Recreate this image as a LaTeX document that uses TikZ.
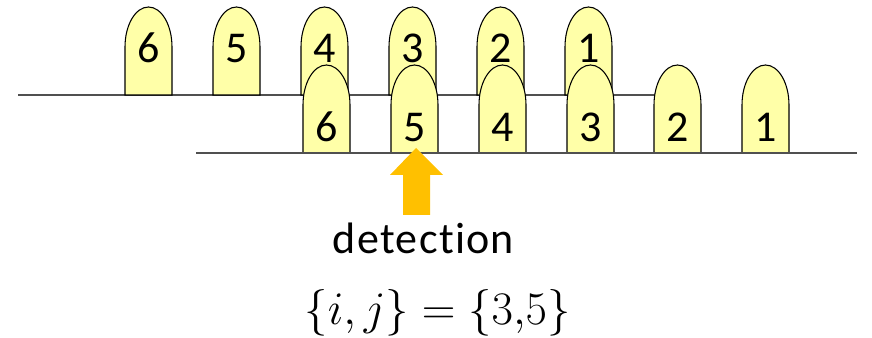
\RequirePackage{fix-cm}
\documentclass[tikz,border=0pt]{standalone}
\usepackage{fontspec}
\setmainfont{Carlito}
\newfontfamily\detfont[LetterSpace=3,Ligatures=NoCommon]{Carlito}
\definecolor{tombfill}{HTML}{FFFFA8}
\definecolor{linegray}{HTML}{505050}
\definecolor{arroworange}{HTML}{FFC000}
\tikzset{
  tombshape/.style={draw=black, line width=0.8pt, fill=tombfill},
  digit/.style={font=\fontsize{33}{33}\selectfont, anchor=base, inner sep=0pt},
  rail/.style={draw=linegray, line width=1.3pt},
  tomb/.pic={
    \path[tombshape] (-23.5,0) -- (-23.5,-48)
      .. controls (-23.5,-70.1) and (-13,-88) .. (0,-88)
      .. controls (13,-88) and (23.5,-70.1) .. (23.5,-48)
      -- (23.5,0) -- cycle;
  }
}
\begin{document}
\begin{tikzpicture}[x=0.75pt,y=-0.75pt]
\useasboundingbox (0,0) rectangle (872,338);
% upper rail
\coordinate (ua) at (18,95);
\coordinate (ub) at (655,95);
\draw[rail] (ua) -- (ub);
% upper row
\foreach \n/\cx in {6/148.5,5/236.5,4/324.5,3/412.5,2/500.5,1/588.5}{
  \pic at (\cx,95) {tomb};
  \node[digit] (u\n) at (\cx,63) {\n};
}
% lower row
\foreach \n/\cx in {6/326.5,5/414.5,4/502.5,3/590.5,2/677.5,1/765.5}{
  \pic at (\cx,153) {tomb};
  \node[digit] (l\n) at (\cx,142) {\n};
}
% lower rail
\coordinate (la) at (196,153);
\coordinate (lb) at (857,153);
\draw[rail] (la) -- (lb);
% detection arrow
\fill[arroworange] (416,148) -- (443,175) -- (430,175) -- (430,215) -- (403,215) -- (403,175) -- (390,175) -- cycle;
\node[font=\detfont\fontsize{33}{33}\selectfont, anchor=base, inner sep=0pt] (det) at (423.5,254) {detection};
\node[font=\fontsize{35}{35}\selectfont, anchor=base, inner sep=0pt] (eq) at (437.5,325) {$\{i,j\}=\{3{,}5\}$};
\end{tikzpicture}
\end{document}
